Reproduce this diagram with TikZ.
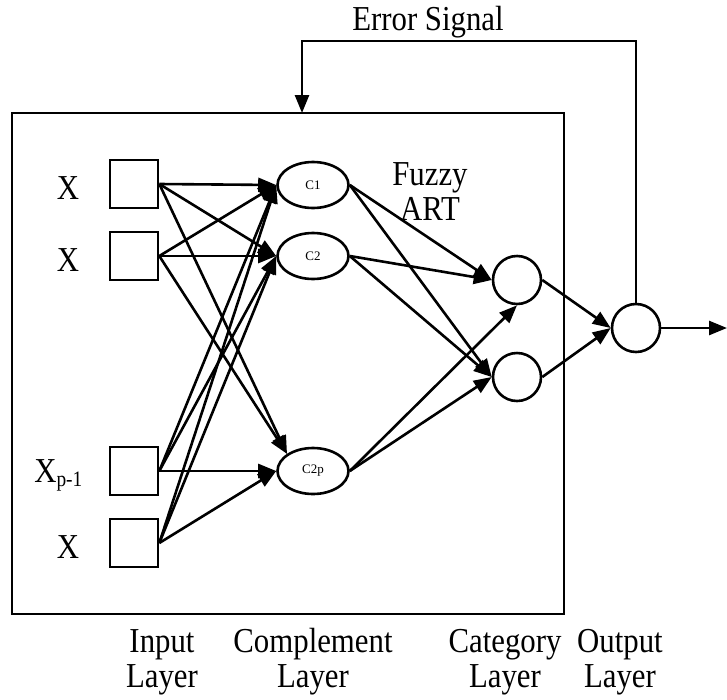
\documentclass[tikz,border=0pt]{standalone}
\usepackage{fontspec}
\setmainfont{Liberation Serif}
\usetikzlibrary{arrows.meta,shapes.geometric}
\newcommand\condtxt[1]{\scalebox{0.88}[1]{#1}}
\begin{document}
\begin{tikzpicture}[x=1pt,y=-1pt,
  line width=2.6pt,
  inbox/.style={draw, minimum size=48pt, inner sep=0pt},
  comp/.style={draw, ellipse, minimum width=71pt, minimum height=46pt, inner sep=0pt, font=\fontsize{13}{15}\selectfont},
  unit/.style={draw, circle, minimum size=48pt, inner sep=0pt},
  lbl/.style={font=\fontsize{35}{35}\selectfont, inner sep=0pt, align=center},
  conn/.style={-{Triangle[length=18pt,width=14pt]}},
]
\useasboundingbox (0,0) rectangle (727,699);
\draw[fill=white,draw=none] (0,0) rectangle (727,699);

% outer box
\draw (12,113) rectangle (564,614);
\coordinate (errin) at (302,113);

% input squares
\node[inbox] (i1) at (134,184) {};
\node[inbox] (i2) at (134,256) {};
\node[inbox] (i3) at (134,471) {};
\node[inbox] (i4) at (134,543) {};

\node[lbl] (x1) at (68,188) {\condtxt{X}};
\node[lbl] (x2) at (68,260) {\condtxt{X}};
\node[lbl,anchor=west] (x3) at (33,475) {\condtxt{X\raisebox{-4pt}{\fontsize{22}{22}\selectfont p-1}}};
\node[lbl] (x4) at (68,547) {\condtxt{X}};

% complement layer
\node[comp] (c1) at (313,185) {C1};
\node[comp] (c2) at (313,256) {C2};
\node[comp] (c3) at (313,471) {C2p};

\node[lbl] (fz) at (430,192) {\condtxt{Fuzzy}\\\condtxt{ART}};

% category layer
\node[unit] (k1) at (517,280) {};
\node[unit] (k2) at (517,377) {};

% output
\node[unit] (o) at (636,328) {};
\coordinate (oend) at (727,328);

% input -> complement
\foreach \i in {i1,i2,i3,i4}{
  \draw[conn] (\i.east) -- (c1.west);
  \draw[conn] (\i.east) -- (c2.west);
}
\draw[conn] (i1.east) -- (c3.north west);
\draw[conn] (i2.east) -- (c3.north west);
\draw[conn] (i3.east) -- (c3.west);
\draw[conn] (i4.east) -- (c3.west);

% complement -> category
\draw[conn] (c1.east) -- (k1.west);
\draw[conn] (c2.east) -- (k1.west);
\draw[conn] (c3.east) -- (k1.south);
\draw[conn] (c1.east) -- (k2.west);
\draw[conn] (c2.east) -- (k2.west);
\draw[conn] (c3.east) -- (k2.west);

% category -> output
\draw[conn] (k1.east) -- (o.west);
\draw[conn] (k2.east) -- (o.west);
\draw[conn] (o.east) -- (oend);

% error signal
\draw[conn] (o.north) |- (302,41) -- (errin);
\node[lbl] (es) at (428,22) {\condtxt{Error Signal}};

% layer labels
\node[lbl] (l1) at (162,662) {\condtxt{Input}\\\condtxt{Layer}};
\node[lbl] (l2) at (313,662) {\condtxt{Complement}\\\condtxt{Layer}};
\node[lbl] (l3) at (505,662) {\condtxt{Category}\\\condtxt{Layer}};
\node[lbl] (l4) at (620,662) {\condtxt{Output}\\\condtxt{Layer}};
\end{tikzpicture}
\end{document}
